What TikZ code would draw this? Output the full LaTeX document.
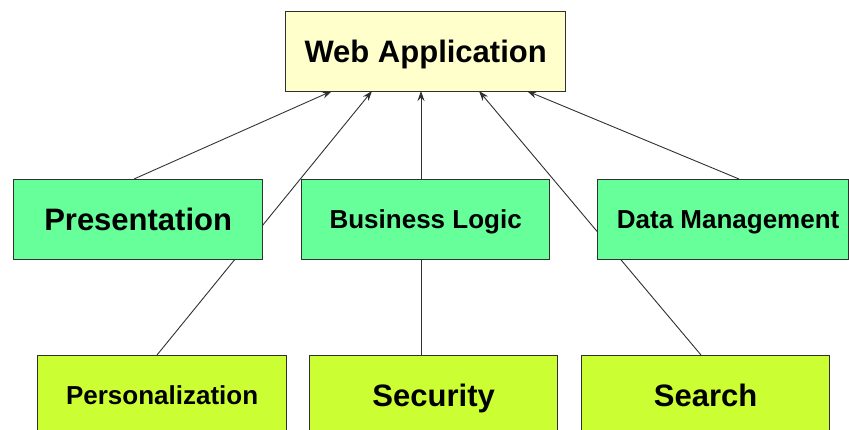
\documentclass[tikz,border=0pt]{standalone}
\usepackage{fontspec}
\setmainfont{Liberation Sans}
\usetikzlibrary{arrows.meta}
\definecolor{topfill}{HTML}{FFFFCC}
\definecolor{midfill}{HTML}{66FF99}
\definecolor{lowfill}{HTML}{CCFF33}
\definecolor{edge}{HTML}{303030}
\begin{document}
\begin{tikzpicture}[x=1pt,y=-1pt,
  box/.style={draw=edge,line width=1.3pt,minimum height=80pt,inner sep=0pt,anchor=north west,text depth=0pt},
  big/.style={font=\fontsize{31}{36}\selectfont\bfseries,text height=22.2pt},
  small/.style={font=\fontsize{26}{30}\selectfont\bfseries,text height=18.6pt},
  conn/.style={draw=edge,line width=0.9pt},
  arr/.style={conn,-{Stealth[length=10pt,width=7pt]}}]
\useasboundingbox (0,0) rectangle (849,429);
\clip (0,0) rectangle (849,429);
% connector end points
\coordinate (w1) at (332,91);
\coordinate (w2) at (372,91);
\coordinate (w3) at (421,91);
\coordinate (w4) at (479,91);
\coordinate (w5) at (527,91);
\coordinate (p1) at (134,179);
\coordinate (p5) at (739,179);
\coordinate (q1) at (157,355);
\coordinate (q3) at (421,355);
\coordinate (q4) at (701,355);
% long connectors (behind the middle boxes)
\draw[arr] (q1) -- (w2);
\draw[arr] (q3) -- (w3);
\draw[arr] (q4) -- (w4);
% boxes
\node[box,big,fill=topfill,minimum width=280pt] (web) at (285,11) {Web Application};
\node[box,big,fill=midfill,minimum width=249pt] (pres) at (13,179) {Presentation};
\node[box,small,fill=midfill,minimum width=248pt] (bl) at (301,179) {Business Logic};
\node[box,small,fill=midfill,minimum width=251pt] (dm) at (597,179) {\hspace*{10pt}Data Management};
\node[box,small,fill=lowfill,minimum width=249pt] (pers) at (37,355) {Personalization};
\node[box,big,fill=lowfill,minimum width=248pt] (sec) at (309,355) {Security};
\node[box,big,fill=lowfill,minimum width=248pt] (srch) at (581,355) {Search};
% short connectors from the middle boxes
\draw[arr] (p1) -- (w1);
\draw[arr] (p5) -- (w5);
\end{tikzpicture}
\end{document}
